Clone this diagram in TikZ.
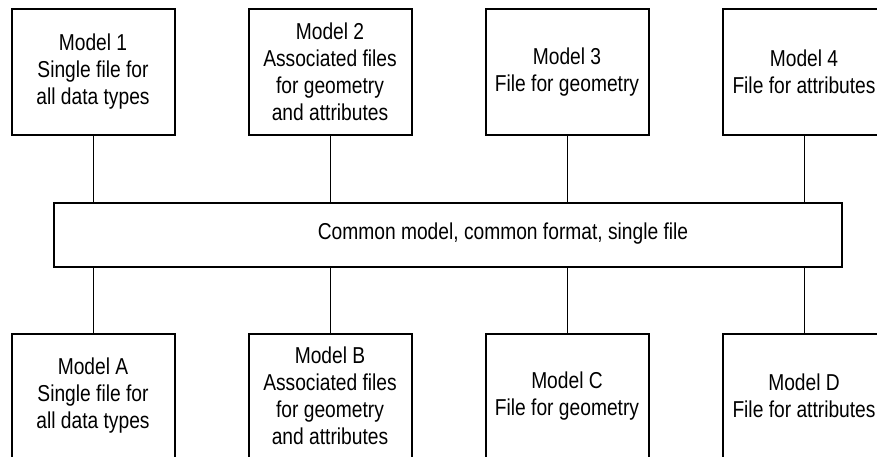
\documentclass[tikz,border=0pt]{standalone}
\usepackage{fontspec}
\setmainfont[FakeStretch=0.835]{Liberation Sans}
\begin{document}
\begin{tikzpicture}[x=1pt,y=-1pt,
  modelbox/.style={draw, line width=2pt, minimum width=163pt, align=center,
    inner sep=0pt, font=\fontsize{23}{27}\selectfont},
  midbox/.style={draw, line width=2pt, minimum width=788pt, minimum height=64pt, inner sep=0pt},
  midtext/.style={inner sep=0pt, font=\fontsize{23}{27}\selectfont},
  conn/.style={line width=0.9pt}]
\useasboundingbox (0,0) rectangle (877,456);
\clip (0,0) rectangle (877,456);
% top row
\node[modelbox, minimum height=126pt] (t1) at (93,72) {Model 1\\Single file for\\all data types};
\node[modelbox, minimum height=126pt] (t2) at (330,72) {Model 2\\Associated files\\for geometry\\and attributes};
\node[modelbox, minimum height=126pt] (t3) at (567,72) {Model 3\\File for geometry};
\node[modelbox, minimum height=126pt] (t4) at (804,72) {Model 4\\File for attributes};
% middle
\node[midbox] (mid) at (448,235) {};
\node[midtext] (midlabel) at (503,234) {Common model, common format, single file};
% bottom row
\node[modelbox, minimum height=124pt] (b1) at (93,396) {Model A\\Single file for\\all data types};
\node[modelbox, minimum height=124pt] (b2) at (330,396) {Model B\\Associated files\\for geometry\\and attributes};
\node[modelbox, minimum height=124pt] (b3) at (567,396) {Model C\\File for geometry};
\node[modelbox, minimum height=124pt] (b4) at (804,396) {Model D\\File for attributes};
% connectors
\foreach \n in {1,2,3,4}{
  \draw[conn] (t\n.south) -- (t\n.south |- mid.north);
  \draw[conn] (mid.south -| b\n.north) -- (b\n.north);
}
\end{tikzpicture}
\end{document}
